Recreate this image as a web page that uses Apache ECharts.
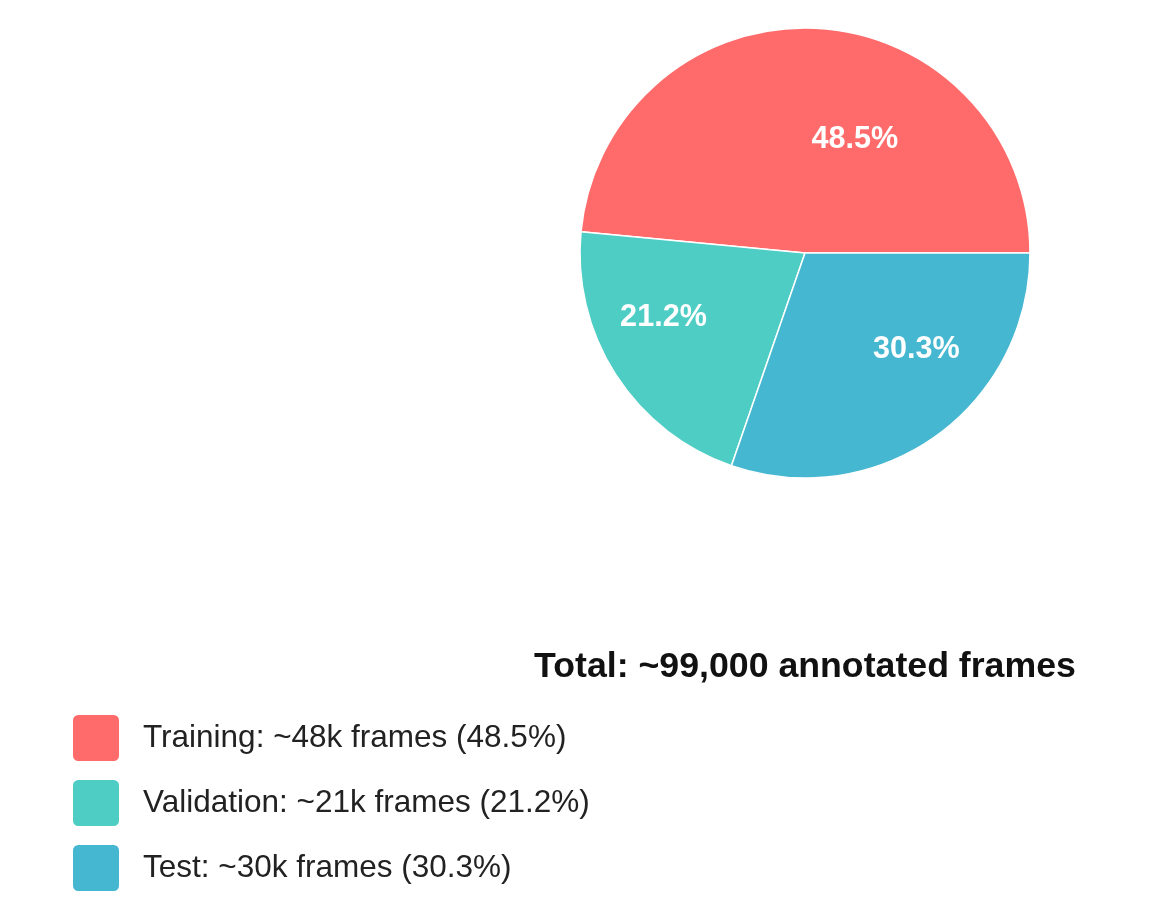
<!DOCTYPE html>
<html>
<head>
<meta charset="utf-8">
<script src="https://cdn.jsdelivr.net/npm/echarts@6/dist/echarts.min.js"></script>
<style>
  html, body { margin: 0; padding: 0; background: #ffffff; }
  #chart { width: 1161px; height: 910px; }
</style>
</head>
<body>
<div id="chart"></div>
<script>
// ---- data ----
const categories = ['Training', 'Validation', 'Test'];
const framesK = [48, 21, 30];
const percents = [48.5, 21.2, 30.3];
const totalFrames = '~99,000';

// ---- style ----
const colors = ['#FF6B6B', '#4ECDC4', '#45B7D1'];
const FONT = '"Liberation Sans", Arial, Helvetica, sans-serif';
const CX = 805, CY = 253, R = 225;
const roundSquare = 'path://M6,0H40A6,6,0,0,1,46,6V40A6,6,0,0,1,40,46H6A6,6,0,0,1,0,40V6A6,6,0,0,1,6,0Z';

const chart = echarts.init(document.getElementById('chart'), null, { renderer: 'canvas' });

const option = {
  backgroundColor: '#ffffff',
  animation: false,
  color: colors,
  title: {
    text: 'Total: ' + totalFrames + ' annotated frames',
    left: CX,
    textAlign: 'center',
    top: 649,
    padding: 0,
    textStyle: { fontFamily: FONT, fontSize: 35.7, fontWeight: 'bold', color: '#111111' }
  },
  legend: {
    orient: 'vertical',
    left: 71,
    top: 713,
    padding: 0,
    itemWidth: 48,
    itemHeight: 48,
    itemGap: 15,
    icon: roundSquare,
    selectedMode: false,
    data: categories,
    formatter: function (name) {
      const i = categories.indexOf(name);
      return name + ': ~' + framesK[i] + 'k frames (' + percents[i].toFixed(1) + '%)';
    },
    textStyle: { fontFamily: FONT, fontSize: 31.5, color: '#222222', padding: [0, 0, 0, 18] }
  },
  series: [{
    type: 'pie',
    center: [CX, CY],
    radius: R,
    startAngle: 0,
    clockwise: false,
    avoidLabelOverlap: false,
    itemStyle: { borderColor: '#ffffff', borderWidth: 1.5 },
    emphasis: { disabled: true },
    label: {
      show: true,
      position: 'inside',
      fontFamily: FONT,
      fontSize: 30.6,
      fontWeight: 'bold',
      color: '#ffffff',
      formatter: function (p) { return percents[p.dataIndex].toFixed(1) + '%'; }
    },
    labelLine: { show: false },
    labelLayout: function (params) {
      const r = params.labelRect;
      const ax = r.x + r.width / 2;
      const ay = r.y + r.height / 2;
      return { x: ax + (ax >= CX ? 1 : -1), y: ay + 2, align: ax >= CX ? 'left' : 'right', verticalAlign: 'middle' };
    },
    data: categories.map(function (c, i) { return { name: c, value: percents[i] }; })
  }]
};

chart.setOption(option);
</script>
</body>
</html>
